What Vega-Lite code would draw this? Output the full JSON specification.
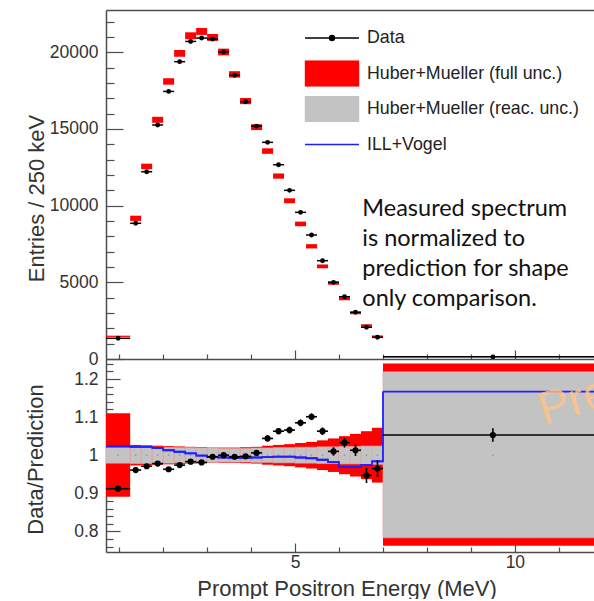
{
  "$schema": "https://vega.github.io/schema/vega-lite/v6.json",
  "padding": {"left": 23, "top": 10, "right": 0, "bottom": 0},
  "config": {
    "font": "Liberation Sans",
    "view": {"stroke": null},
    "axis": {"grid": false, "labelFont": "Liberation Sans", "titleFont": "Liberation Sans", "labelColor": "#333", "titleColor": "#333", "labelFontSize": 17.5, "titleFontSize": 22, "titleFontWeight": "normal", "domainColor": "#4d4d4d", "domainWidth": 1.5, "tickColor": "#4d4d4d", "tickWidth": 1.2}
  },
  "datasets": {
    "bins": [
      {"lo": 0.7, "hi": 1.25, "mid": 0.975, "data": 1350, "pred_lo": 1440, "pred_hi": 1520, "r": 0.912, "r_lo": 0.906, "r_hi": 0.918, "full_lo": 0.891, "full_hi": 1.110, "reac_lo": 0.979, "reac_hi": 1.021, "ill": 1.023},
      {"lo": 1.25, "hi": 1.5, "mid": 1.375, "data": 8850, "pred_lo": 9005, "pred_hi": 9345, "r": 0.961, "r_lo": 0.955, "r_hi": 0.967, "full_lo": 0.973, "full_hi": 1.027, "reac_lo": 0.978, "reac_hi": 1.022, "ill": 1.022},
      {"lo": 1.5, "hi": 1.75, "mid": 1.625, "data": 12210, "pred_lo": 12380, "pred_hi": 12740, "r": 0.971, "r_lo": 0.965, "r_hi": 0.977, "full_lo": 0.974, "full_hi": 1.026, "reac_lo": 0.978, "reac_hi": 1.022, "ill": 1.022},
      {"lo": 1.75, "hi": 2.0, "mid": 1.875, "data": 15260, "pred_lo": 15405, "pred_hi": 15795, "r": 0.978, "r_lo": 0.972, "r_hi": 0.984, "full_lo": 0.975, "full_hi": 1.025, "reac_lo": 0.979, "reac_hi": 1.021, "ill": 1.019},
      {"lo": 2.0, "hi": 2.25, "mid": 2.125, "data": 17450, "pred_lo": 17890, "pred_hi": 18310, "r": 0.963, "r_lo": 0.957, "r_hi": 0.969, "full_lo": 0.976, "full_hi": 1.024, "reac_lo": 0.979, "reac_hi": 1.021, "ill": 1.013},
      {"lo": 2.25, "hi": 2.5, "mid": 2.375, "data": 19390, "pred_lo": 19710, "pred_hi": 20150, "r": 0.974, "r_lo": 0.968, "r_hi": 0.980, "full_lo": 0.977, "full_hi": 1.023, "reac_lo": 0.980, "reac_hi": 1.020, "ill": 1.009},
      {"lo": 2.5, "hi": 2.75, "mid": 2.625, "data": 20710, "pred_lo": 20855, "pred_hi": 21305, "r": 0.983, "r_lo": 0.977, "r_hi": 0.989, "full_lo": 0.978, "full_hi": 1.022, "reac_lo": 0.980, "reac_hi": 1.020, "ill": 1.005},
      {"lo": 2.75, "hi": 3.0, "mid": 2.875, "data": 20930, "pred_lo": 21135, "pred_hi": 21585, "r": 0.981, "r_lo": 0.975, "r_hi": 0.987, "full_lo": 0.979, "full_hi": 1.021, "reac_lo": 0.981, "reac_hi": 1.019, "ill": 0.999},
      {"lo": 3.0, "hi": 3.25, "mid": 3.125, "data": 20860, "pred_lo": 20745, "pred_hi": 21195, "r": 0.996, "r_lo": 0.990, "r_hi": 1.002, "full_lo": 0.980, "full_hi": 1.020, "reac_lo": 0.981, "reac_hi": 1.019, "ill": 0.995},
      {"lo": 3.25, "hi": 3.5, "mid": 3.375, "data": 20020, "pred_lo": 19800, "pred_hi": 20240, "r": 1.000, "r_lo": 0.994, "r_hi": 1.006, "full_lo": 0.980, "full_hi": 1.020, "reac_lo": 0.982, "reac_hi": 1.018, "ill": 0.994},
      {"lo": 3.5, "hi": 3.75, "mid": 3.625, "data": 18500, "pred_lo": 18350, "pred_hi": 18770, "r": 0.996, "r_lo": 0.990, "r_hi": 1.002, "full_lo": 0.980, "full_hi": 1.020, "reac_lo": 0.982, "reac_hi": 1.018, "ill": 0.993},
      {"lo": 3.75, "hi": 4.0, "mid": 3.875, "data": 16780, "pred_lo": 16620, "pred_hi": 17020, "r": 0.997, "r_lo": 0.991, "r_hi": 1.003, "full_lo": 0.979, "full_hi": 1.021, "reac_lo": 0.982, "reac_hi": 1.018, "ill": 0.993},
      {"lo": 4.0, "hi": 4.25, "mid": 4.125, "data": 15190, "pred_lo": 14930, "pred_hi": 15310, "r": 1.006, "r_lo": 0.999, "r_hi": 1.013, "full_lo": 0.978, "full_hi": 1.022, "reac_lo": 0.981, "reac_hi": 1.019, "ill": 0.994},
      {"lo": 4.25, "hi": 4.5, "mid": 4.375, "data": 14130, "pred_lo": 13380, "pred_hi": 13740, "r": 1.044, "r_lo": 1.036, "r_hi": 1.052, "full_lo": 0.975, "full_hi": 1.025, "reac_lo": 0.981, "reac_hi": 1.019, "ill": 0.995},
      {"lo": 4.5, "hi": 4.75, "mid": 4.625, "data": 12670, "pred_lo": 11760, "pred_hi": 12100, "r": 1.063, "r_lo": 1.055, "r_hi": 1.071, "full_lo": 0.973, "full_hi": 1.027, "reac_lo": 0.980, "reac_hi": 1.020, "ill": 0.996},
      {"lo": 4.75, "hi": 5.0, "mid": 4.875, "data": 11000, "pred_lo": 10160, "pred_hi": 10480, "r": 1.066, "r_lo": 1.057, "r_hi": 1.075, "full_lo": 0.971, "full_hi": 1.029, "reac_lo": 0.980, "reac_hi": 1.020, "ill": 0.996},
      {"lo": 5.0, "hi": 5.25, "mid": 5.125, "data": 9565, "pred_lo": 8660, "pred_hi": 8960, "r": 1.085, "r_lo": 1.076, "r_hi": 1.094, "full_lo": 0.968, "full_hi": 1.032, "reac_lo": 0.979, "reac_hi": 1.021, "ill": 0.994},
      {"lo": 5.25, "hi": 5.5, "mid": 5.375, "data": 8085, "pred_lo": 7210, "pred_hi": 7490, "r": 1.101, "r_lo": 1.092, "r_hi": 1.110, "full_lo": 0.965, "full_hi": 1.035, "reac_lo": 0.979, "reac_hi": 1.021, "ill": 0.992},
      {"lo": 5.5, "hi": 5.75, "mid": 5.625, "data": 6410, "pred_lo": 5915, "pred_hi": 6165, "r": 1.063, "r_lo": 1.053, "r_hi": 1.073, "full_lo": 0.961, "full_hi": 1.039, "reac_lo": 0.978, "reac_hi": 1.022, "ill": 0.988},
      {"lo": 5.75, "hi": 6.0, "mid": 5.875, "data": 5000, "pred_lo": 4840, "pred_hi": 5060, "r": 1.010, "r_lo": 0.999, "r_hi": 1.021, "full_lo": 0.956, "full_hi": 1.044, "reac_lo": 0.978, "reac_hi": 1.022, "ill": 0.982},
      {"lo": 6.0, "hi": 6.25, "mid": 6.125, "data": 4060, "pred_lo": 3830, "pred_hi": 4030, "r": 1.033, "r_lo": 1.020, "r_hi": 1.046, "full_lo": 0.950, "full_hi": 1.050, "reac_lo": 0.977, "reac_hi": 1.023, "ill": 0.969},
      {"lo": 6.25, "hi": 6.5, "mid": 6.375, "data": 3045, "pred_lo": 2920, "pred_hi": 3100, "r": 1.013, "r_lo": 0.998, "r_hi": 1.028, "full_lo": 0.944, "full_hi": 1.056, "reac_lo": 0.977, "reac_hi": 1.023, "ill": 0.969},
      {"lo": 6.5, "hi": 6.75, "mid": 6.625, "data": 2070, "pred_lo": 2105, "pred_hi": 2265, "r": 0.947, "r_lo": 0.927, "r_hi": 0.967, "full_lo": 0.937, "full_hi": 1.063, "reac_lo": 0.976, "reac_hi": 1.024, "ill": 0.974},
      {"lo": 6.75, "hi": 7.0, "mid": 6.875, "data": 1415, "pred_lo": 1395, "pred_hi": 1535, "r": 0.965, "r_lo": 0.943, "r_hi": 0.987, "full_lo": 0.928, "full_hi": 1.072, "reac_lo": 0.976, "reac_hi": 1.024, "ill": 0.984},
      {"lo": 7.0, "hi": 12.0, "mid": 9.5, "data": 140, "pred_lo": 120, "pred_hi": 150, "r": 1.053, "r_lo": 1.035, "r_hi": 1.071, "full_lo": 0.762, "full_hi": 1.241, "reac_lo": 0.783, "reac_hi": 1.219, "ill": 1.167}
    ],
    "legend": [
      {"series": "Data"},
      {"series": "Huber+Mueller (full unc.)"},
      {"series": "Huber+Mueller (reac. unc.)"},
      {"series": "ILL+Vogel"}
    ],
    "note": [
      {"x": 6.53, "y": 9325, "text": "Measured spectrum\nis normalized to\nprediction for shape\nonly comparison."}
    ],
    "stamp": [
      {"x": 10.66, "y": 1.079, "text": "Preliminary"}
    ]
  },
  "spacing": 0,
  "bounds": "flush",
  "resolve": {"scale": {"fill": "independent", "stroke": "independent", "shape": "independent"}},
  "vconcat": [
    {
      "width": 488,
      "height": 349,
      "layer": [
        {
          "data": {"name": "bins"},
          "mark": {"type": "rect", "color": "#ff0000", "clip": true},
          "encoding": {
            "x": {"field": "lo", "type": "quantitative", "scale": {"domain": [0.7, 11.8], "nice": false, "zero": false},
                  "axis": {"orient": "bottom", "values": [5, 10], "tickSize": -9, "labels": false, "title": null}},
            "x2": {"field": "hi"},
            "y": {"field": "pred_lo", "type": "quantitative", "scale": {"domain": [0, 22760], "nice": false, "zero": false},
                  "axis": {"orient": "left", "values": [0, 5000, 10000, 15000, 20000], "format": "d", "tickSize": -17, "labelPadding": 25,
                           "title": "Entries / 250 keV", "titleX": -62.5, "titleY": 188, "titleBaseline": "alphabetic", "titleAlign": "center", "titleAngle": -90}},
            "y2": {"field": "pred_hi"}
          }
        },
        {
          "data": {"name": "bins"},
          "mark": {"type": "rule", "color": "#000000", "strokeWidth": 1.5, "clip": true},
          "encoding": {
            "x": {"field": "lo", "type": "quantitative",
                  "axis": {"orient": "bottom", "values": [1, 2, 3, 4, 6, 7, 8, 9, 11], "tickSize": -5, "labels": false, "domain": false, "title": null}},
            "x2": {"field": "hi"},
            "y": {"field": "data", "type": "quantitative",
                  "axis": {"orient": "left", "values": [1000, 2000, 3000, 4000, 6000, 7000, 8000, 9000, 11000, 12000, 13000, 14000, 16000, 17000, 18000, 19000, 21000, 22000], "tickSize": -8, "labels": false, "domain": false, "title": null}}
          }
        },
        {
          "data": {"name": "bins"},
          "mark": {"type": "point", "filled": true, "color": "#000000", "size": 24, "opacity": 1, "clip": true},
          "encoding": {
            "x": {"field": "mid", "type": "quantitative",
                  "axis": {"orient": "top", "ticks": false, "labels": false, "domain": true, "title": null}},
            "y": {"field": "data", "type": "quantitative", "axis": null}
          }
        },
        {
          "data": {"name": "note"},
          "mark": {"type": "text", "align": "left", "baseline": "alphabetic", "font": "Lato", "fontSize": 23.5, "lineHeight": 30, "lineBreak": "\n", "color": "#111111"},
          "encoding": {
            "x": {"field": "x", "type": "quantitative", "axis": null},
            "y": {"field": "y", "type": "quantitative", "axis": null},
            "text": {"field": "text"}
          }
        },
        {
          "data": {"name": "legend"},
          "mark": {"type": "point", "filled": true},
          "encoding": {
            "opacity": {"value": 0},
            "shape": {"field": "series", "type": "nominal",
                      "scale": {"domain": ["Data", "Huber+Mueller (full unc.)", "Huber+Mueller (reac. unc.)", "ILL+Vogel"],
                                "range": ["M-1,0H1M-0.09,0A0.09,0.09,0,1,0,0.09,0A0.09,0.09,0,1,0,-0.09,0Z", "M-0.98,-0.47H0.98V0.47H-0.98Z", "M-0.98,-0.47H0.98V0.47H-0.98Z", "M-1,0H1"]},
                      "legend": {"orient": "none", "legendX": 198, "legendY": 15, "title": null, "symbolSize": 2916, "clipHeight": 26, "rowPadding": 9.5, "labelOffset": 7, "labelFontSize": 17.8, "labelColor": "#222", "labelFont": "Liberation Sans", "symbolStrokeWidth": 1.5, "padding": 0, "labelLimit": 400, "symbolOpacity": 1}},
            "fill": {"field": "series", "type": "nominal",
                     "scale": {"domain": ["Data", "Huber+Mueller (full unc.)", "Huber+Mueller (reac. unc.)", "ILL+Vogel"], "range": ["#000000", "#ff0000", "#c3c3c3", "#1f1fff"]},
                     "legend": {"orient": "none", "legendX": 198, "legendY": 15, "title": null, "symbolSize": 2916, "clipHeight": 26, "rowPadding": 9.5, "labelOffset": 7, "labelFontSize": 17.8, "labelColor": "#222", "labelFont": "Liberation Sans", "symbolStrokeWidth": 1.5, "padding": 0, "labelLimit": 400, "symbolOpacity": 1}},
            "stroke": {"field": "series", "type": "nominal",
                       "scale": {"domain": ["Data", "Huber+Mueller (full unc.)", "Huber+Mueller (reac. unc.)", "ILL+Vogel"], "range": ["#000000", "#ff0000", "#c3c3c3", "#1f1fff"]},
                       "legend": {"orient": "none", "legendX": 198, "legendY": 15, "title": null, "symbolSize": 2916, "clipHeight": 26, "rowPadding": 9.5, "labelOffset": 7, "labelFontSize": 17.8, "labelColor": "#222", "labelFont": "Liberation Sans", "symbolStrokeWidth": 1.5, "padding": 0, "labelLimit": 400, "symbolOpacity": 1}}
          }
        }
      ],
      "resolve": {"axis": {"x": "independent", "y": "independent"}}
    },
    {
      "width": 488,
      "height": 193,
      "layer": [
        {
          "data": {"name": "bins"},
          "mark": {"type": "rect", "color": "#ff0000", "clip": true},
          "encoding": {
            "x": {"field": "lo", "type": "quantitative", "scale": {"domain": [0.7, 11.8], "nice": false, "zero": false},
                  "axis": {"orient": "bottom", "values": [5, 10], "tickSize": -9, "labelPadding": 10, "title": "Prompt Positron Energy (MeV)", "titleX": 240.5, "titleY": 43, "titleBaseline": "alphabetic", "titleAlign": "center"}},
            "x2": {"field": "hi"},
            "y": {"field": "full_lo", "type": "quantitative", "scale": {"domain": [0.7458, 1.2526], "nice": false, "zero": false},
                  "axis": {"orient": "left", "values": [0.8, 0.9, 1, 1.1, 1.2], "format": "~g", "tickSize": -14, "labelPadding": 22,
                           "title": "Data/Prediction", "titleX": -64, "titleY": 100, "titleBaseline": "alphabetic", "titleAlign": "center", "titleAngle": -90}},
            "y2": {"field": "full_hi"}
          }
        },
        {
          "data": {"name": "bins"},
          "mark": {"type": "rect", "color": "#c3c3c3", "stroke": "#eaa0a0", "strokeWidth": 0.6, "clip": true},
          "encoding": {
            "x": {"field": "lo", "type": "quantitative",
                  "axis": {"orient": "bottom", "values": [1, 2, 3, 4, 6, 7, 8, 9, 11], "tickSize": -5, "labels": false, "domain": false, "title": null}},
            "x2": {"field": "hi"},
            "y": {"field": "reac_lo", "type": "quantitative",
                  "axis": {"orient": "left", "values": [0.76, 0.78, 0.82, 0.84, 0.86, 0.88, 0.92, 0.94, 0.96, 0.98, 1.02, 1.04, 1.06, 1.08, 1.12, 1.14, 1.16, 1.18, 1.22, 1.24], "tickSize": -7, "labels": false, "domain": false, "title": null}},
            "y2": {"field": "reac_hi"}
          }
        },
        {
          "data": {"name": "bins"},
          "mark": {"type": "point", "filled": true, "color": "#8a8a8a", "size": 3, "clip": true},
          "encoding": {
            "x": {"field": "mid", "type": "quantitative", "axis": null},
            "y": {"datum": 1, "type": "quantitative", "axis": null}
          }
        },
        {
          "data": {"name": "bins"},
          "mark": {"type": "line", "interpolate": "step-after", "color": "#1f1fff", "strokeWidth": 1.8, "clip": true},
          "encoding": {
            "x": {"field": "lo", "type": "quantitative", "axis": null},
            "y": {"field": "ill", "type": "quantitative", "axis": null}
          }
        },
        {
          "data": {"name": "bins"},
          "mark": {"type": "rule", "color": "#1f1fff", "strokeWidth": 1.8, "clip": true},
          "encoding": {
            "x": {"field": "lo", "type": "quantitative", "axis": null},
            "x2": {"field": "hi"},
            "y": {"field": "ill", "type": "quantitative", "axis": null}
          }
        },
        {
          "data": {"name": "stamp"},
          "mark": {"type": "text", "align": "left", "baseline": "alphabetic", "angle": -17, "fontSize": 46, "color": "#ffc387", "opacity": 0.8, "clip": true},
          "encoding": {
            "x": {"field": "x", "type": "quantitative", "axis": null},
            "y": {"field": "y", "type": "quantitative", "axis": null},
            "text": {"field": "text"}
          }
        },
        {
          "data": {"name": "bins"},
          "mark": {"type": "rule", "color": "#000000", "strokeWidth": 1.6, "clip": true},
          "encoding": {
            "x": {"field": "lo", "type": "quantitative", "axis": null},
            "x2": {"field": "hi"},
            "y": {"field": "r", "type": "quantitative", "axis": null}
          }
        },
        {
          "data": {"name": "bins"},
          "mark": {"type": "rule", "color": "#000000", "strokeWidth": 1.6, "clip": true},
          "encoding": {
            "x": {"field": "mid", "type": "quantitative", "axis": null},
            "y": {"field": "r_lo", "type": "quantitative", "axis": null},
            "y2": {"field": "r_hi"}
          }
        },
        {
          "data": {"name": "bins"},
          "mark": {"type": "point", "filled": true, "color": "#000000", "size": 38, "opacity": 1, "clip": true},
          "encoding": {
            "x": {"field": "mid", "type": "quantitative", "axis": null},
            "y": {"field": "r", "type": "quantitative", "axis": null}
          }
        }
      ],
      "resolve": {"axis": {"x": "independent", "y": "independent"}}
    }
  ]
}
